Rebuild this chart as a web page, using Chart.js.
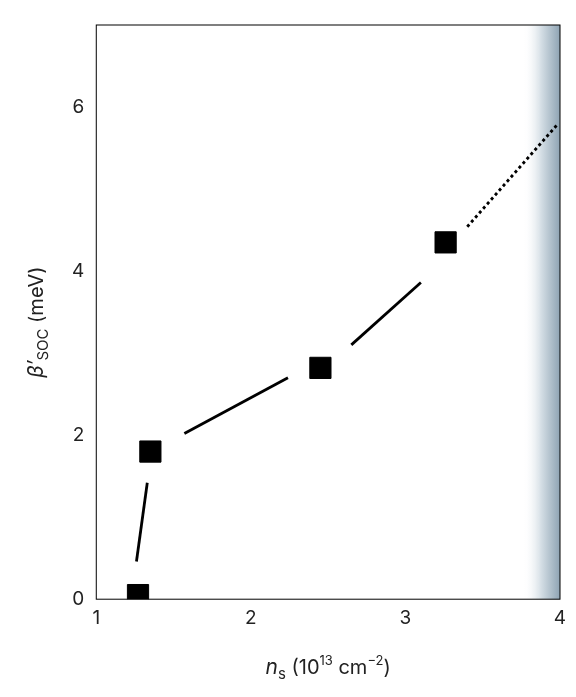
<!DOCTYPE html><html><head><script src="https://cdn.jsdelivr.net/npm/chart.js@4"></script>
<style>body{margin:0;background:#fff}#w{width:576px;height:697px}</style></head><body><div id="w"><canvas id="c"></canvas></div>
<script>
const pointsX=[1.27,1.35,2.45,3.26];
const pointsY=[0.05,1.8,2.82,4.35];
const seg1X=[1.26,1.33],seg1Y=[0.46,1.42];
const seg2X=[1.57,2.24],seg2Y=[2.02,2.70];
const seg3X=[2.65,3.10],seg3Y=[3.10,3.86];
const dotX=[3.40,3.98],dotY=[4.54,5.78];
const shadeFrom=3.76;
const xTicks=[1,2,3,4],yTicks=[0,2,4,6];
const F='Inter, "DejaVu Sans", sans-serif';
const mk=(xs,ys)=>xs.map((x,i)=>({x,y:ys[i]}));
const line=(xs,ys,dash)=>({type:'line',data:mk(xs,ys),borderColor:'#000',borderWidth:2.8,borderDash:dash||[],pointRadius:0,showLine:true});
const deco={id:'deco',beforeDatasetsDraw(ch){const {ctx,scales:{x,y},chartArea:a}=ch;const l=x.getPixelForValue(shadeFrom);
const g=ctx.createLinearGradient(l,0,a.right,0);g.addColorStop(0,'rgba(255,255,255,0)');g.addColorStop(0.5,'#d3dde4');g.addColorStop(1,'#8ea3b3');
ctx.save();ctx.fillStyle=g;ctx.fillRect(l,a.top,a.right-l,a.bottom-a.top);ctx.restore();},
afterDraw(ch){const {ctx,chartArea:a}=ch;ctx.save();ctx.strokeStyle='#000';ctx.lineWidth=1;ctx.strokeRect(a.left,a.top,a.right-a.left,a.bottom-a.top);
ctx.fillStyle='#222';ctx.textBaseline='alphabetic';
let cx=(a.left+a.right)/2,by=674;
const parts=[['n','italic 21px',0],['s','15px',5],[' (10','20px',0],['13','13px',-9],[' cm','20px',0],['\u22122','13px',-9],[')','20px',0]];
let w=0;parts.forEach(p=>{ctx.font=p[1]+' '+F;w+=ctx.measureText(p[0]).width});let px=cx-w/2;
parts.forEach(p=>{ctx.font=p[1]+' '+F;ctx.fillText(p[0],px,by+p[2]);px+=ctx.measureText(p[0]).width});
ctx.translate(43,(a.top+a.bottom)/2+10);ctx.rotate(-Math.PI/2);
const yp=[['\u03b2\u2032','italic 21px',0],['SOC','15px',5],[' (meV)','20px',0]];
w=0;yp.forEach(p=>{ctx.font=p[1]+' '+F;w+=ctx.measureText(p[0]).width});px=-w/2;
yp.forEach(p=>{ctx.font=p[1]+' '+F;ctx.fillText(p[0],px,p[2]);px+=ctx.measureText(p[0]).width});
ctx.restore();}};
new Chart(document.getElementById('c'),{type:'scatter',data:{datasets:[
{data:mk(pointsX,pointsY),pointStyle:'rect',pointRadius:15,backgroundColor:'#000',borderColor:'#000'},
line(seg1X,seg1Y),line(seg2X,seg2Y),line(seg3X,seg3Y),line(dotX,dotY,[3,3])]},
options:{responsive:true,maintainAspectRatio:false,animation:false,layout:{padding:{left:66,top:25,right:7,bottom:65}},
plugins:{legend:{display:false},tooltip:{enabled:false}},
scales:{x:{type:'linear',min:1,max:4,afterBuildTicks:s=>{s.ticks=xTicks.map(v=>({value:v}))},grid:{display:false,tickLength:6,tickColor:'#000'},border:{display:false},ticks:{color:'#222',font:{family:F,size:19},padding:2}},
y:{min:0,max:7,afterBuildTicks:s=>{s.ticks=yTicks.map(v=>({value:v}))},grid:{display:false,tickLength:6,tickColor:'#000'},border:{display:false},ticks:{color:'#222',font:{family:F,size:19},padding:6}}}},
plugins:[deco]});
</script></body></html>
